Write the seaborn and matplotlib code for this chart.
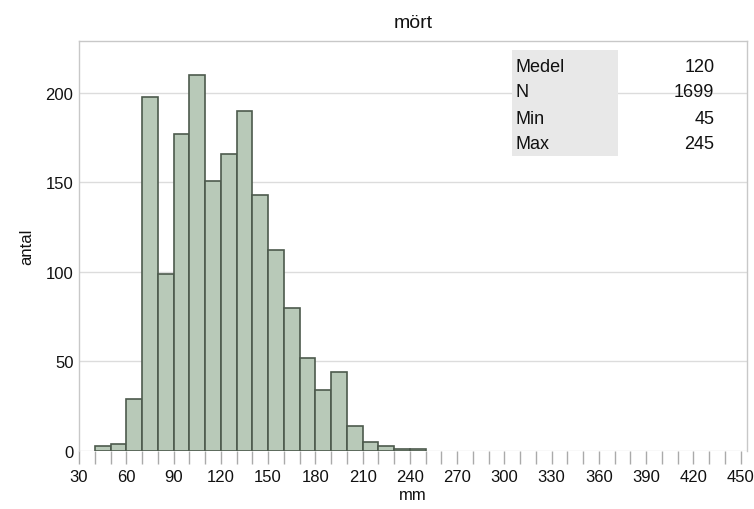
import numpy as np
import pandas as pd
import matplotlib
matplotlib.use("Agg")
import matplotlib.pyplot as plt
import seaborn as sns
from matplotlib.patches import Rectangle

# Data
bin_left = [40, 50, 60, 70, 80, 90, 100, 110, 120, 130, 140, 150, 160, 170,
            180, 190, 200, 210, 220, 230, 240]
counts = [3, 4, 29, 198, 99, 177, 210, 151, 166, 190, 143, 112, 80, 52,
          34, 44, 14, 5, 3, 1, 1]
stat_labels = ["Medel", "N", "Min", "Max"]
stat_values = ["120", "1699", "45", "245"]
title = "mört"
xlabel = "mm"
ylabel = "antal"

sns.set_style("white")
plt.rcParams['font.family'] = ['Liberation Sans', 'DejaVu Sans']
plt.rcParams['text.color'] = '#111111'
plt.rcParams['axes.labelcolor'] = '#111111'

fig = plt.figure(figsize=(7.54, 5.10), dpi=100)
ax = fig.add_axes([79/754, 1-452/510, (747-79)/754, (452-42)/510])

df = pd.DataFrame({"mm": [b + 5 for b in bin_left], "antal": counts})
sns.histplot(data=df, x="mm", weights="antal", binwidth=10,
             binrange=(bin_left[0], bin_left[-1] + 10), ax=ax,
             color="#b8c9b8", edgecolor="#4d5a4d", linewidth=1.2, alpha=1)

ax.set_xlim(30, 454)
ax.set_ylim(0, 229)
ax.set_xticks(np.arange(30, 451, 30))
ax.set_xticks(np.arange(30, 451, 10), minor=True)
ax.set_yticks([0, 50, 100, 150, 200])
ax.tick_params(axis="x", which="both", bottom=True, direction="out", length=9,
               width=1, color="#aaaaaa", labelsize=12, pad=4,
               labelcolor="#111111")
ax.tick_params(axis="y", length=0, labelsize=12, pad=4, labelcolor="#111111")
ax.grid(axis="y", color="#dcdcdc", linewidth=1)
ax.set_axisbelow(True)
for s in ["top", "right", "left"]:
    ax.spines[s].set_visible(True)
    ax.spines[s].set_color("#c8c8c8")
    ax.spines[s].set_linewidth(1)
ax.spines["bottom"].set_visible(False)

ax.set_title(title, fontsize=14, pad=10)
ax.set_xlabel(xlabel, fontsize=12, labelpad=2)
ax.set_ylabel(ylabel, fontsize=12, labelpad=8)

# stats box
ax.add_patch(Rectangle((0.648, 0.7195), 0.807 - 0.648, 0.978 - 0.7195,
                       transform=ax.transAxes, facecolor="#e8e8e8",
                       edgecolor="none", zorder=3))
rows_y = [0.937, 0.876, 0.812, 0.749]
for lab, val, yy in zip(stat_labels, stat_values, rows_y):
    ax.text(0.654, yy, lab, transform=ax.transAxes, fontsize=13,
            va="center", ha="left", zorder=4)
    ax.text(0.951, yy, val, transform=ax.transAxes, fontsize=13,
            va="center", ha="right", zorder=4)

fig.savefig("out.png", dpi=100)
